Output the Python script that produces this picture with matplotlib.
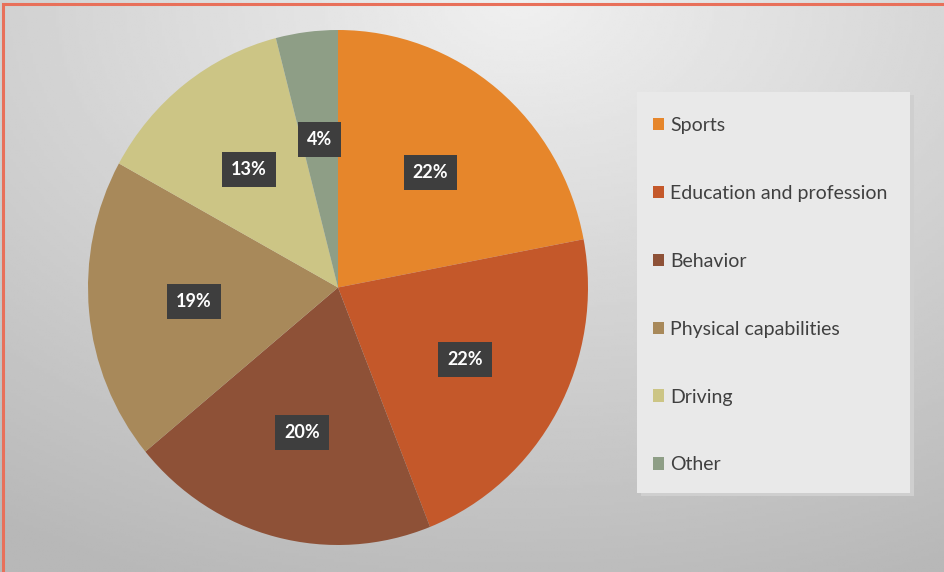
import numpy as np
import matplotlib.pyplot as plt
from matplotlib.patches import Rectangle

# data
categories = ['Sports', 'Education and profession', 'Behavior',
              'Physical capabilities', 'Driving', 'Other']
shares = [22, 22, 20, 19, 13, 4]
colors = ['#E6862B', '#C4582A', '#8E5137', '#A8895A', '#CCC585', '#8E9E86']

plt.rcParams['font.family'] = ['Lato', 'DejaVu Sans']

W, H = 945, 572
fig = plt.figure(figsize=(W / 100, H / 100), dpi=100)

# background gradient
bg = fig.add_axes([0, 0, 1, 1])
yy, xx = np.mgrid[0:1:200j, 0:1:330j]
d = np.sqrt(((xx - 0.55) / 1.0) ** 2 + ((yy - 0.0) / 1.1) ** 2)
shade = 0.94 - 0.22 * np.clip(d, 0, 1)
bg.imshow(shade, cmap='gray', vmin=0, vmax=1, aspect='auto',
          extent=[0, 1, 1, 0])
bg.set_xlim(0, 1)
bg.set_ylim(1, 0)
bg.axis('off')

# red frame (only top and left visible)
fig.patches.append(Rectangle((3.5 / W, -0.1), 1.2, 1 - 3.5 / H + 0.1,
                             transform=fig.transFigure, fill=False,
                             edgecolor='#E8705A', linewidth=2.2))

# pie
cx, cy, rx, ry = 338, 287.5, 250, 257.5
ax = fig.add_axes([(cx - rx) / W, (H - cy - ry) / H, 2 * rx / W, 2 * ry / H])
wedges, texts, autotexts = ax.pie(
    shares, colors=colors, startangle=90, counterclock=False,
    autopct='%d%%', pctdistance=0.58,
    wedgeprops=dict(linewidth=0))
for t in autotexts:
    t.set_color('white')
    t.set_fontweight('bold')
    t.set_fontsize(13)
    t.set_bbox(dict(boxstyle='square,pad=0.5', facecolor='#3E3E3E',
                    edgecolor='none'))
ax.set_aspect('auto')
ax.set_xlim(-1, 1)
ax.set_ylim(-1, 1)
ax.axis('off')

# legend box
lx0, ly0, lx1, ly1 = 637, 92, 910, 493
fig.patches.append(Rectangle((lx0 / W + 0.004, (H - ly1) / H - 0.006),
                             (lx1 - lx0) / W, (ly1 - ly0) / H,
                             transform=fig.transFigure, facecolor='#cfcfcf',
                             edgecolor='none', zorder=0.5))
fig.patches.append(Rectangle((lx0 / W, (H - ly1) / H),
                             (lx1 - lx0) / W, (ly1 - ly0) / H,
                             transform=fig.transFigure, facecolor='#e9e9e9',
                             edgecolor='none', zorder=0.6))

leg = fig.legend(wedges, categories, loc='upper left',
                 bbox_to_anchor=(643 / W, 1 - 107 / H), frameon=False,
                 fontsize=14, handlelength=0.6, handleheight=0.6,
                 handletextpad=0.3, labelspacing=2.62, borderpad=0)
for t in leg.get_texts():
    t.set_color('#404040')

fig.savefig('out.png', dpi=100)
